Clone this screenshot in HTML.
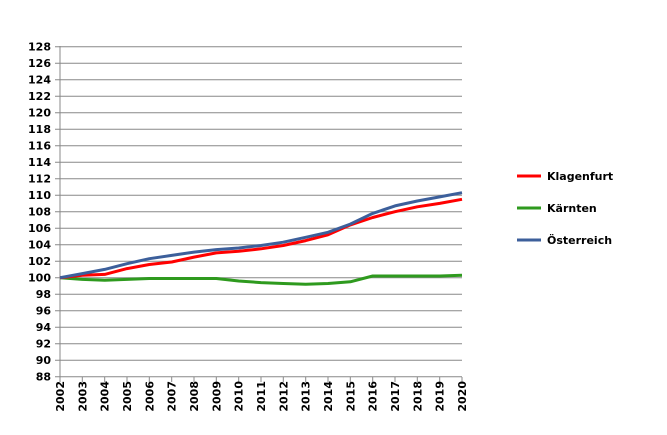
<!DOCTYPE html>
<html><head><meta charset="utf-8"><style>
body{margin:0;background:#fff}
svg text{font-family:"DejaVu Sans","Liberation Sans",sans-serif;font-weight:bold;font-size:11px;fill:#000}
</style></head><body>
<svg id="s" width="667" height="430" xmlns="http://www.w3.org/2000/svg"></svg>
<script>
const s=document.getElementById('s');
const X=i=>60+i*(402/18), Y=v=>376.7-(v-88)*8.25;
let h='';
for(let v=88;v<=128;v+=2){const y=Y(v).toFixed(1);
 h+=`<line x1="55" x2="462" y1="${y}" y2="${y}" stroke="#888" stroke-width="1"/>`;
 h+=`<text x="51" y="${(+y+4).toFixed(1)}" text-anchor="end">${v}</text>`;}
h+=`<line x1="60" x2="60" y1="46" y2="377" stroke="#888"/>`;
for(let i=0;i<19;i++){const x=X(i).toFixed(1);
 h+=`<line x1="${x}" x2="${x}" y1="377" y2="382" stroke="#888"/>`;
 h+=`<text transform="translate(${(+x+4).toFixed(1)},381) rotate(-90)" text-anchor="end">${2002+i}</text>`;}
const series=[
["#3C5F9B",[100,100.5,101,101.7,102.3,102.7,103.1,103.4,103.6,103.9,104.3,104.9,105.5,106.5,107.8,108.7,109.3,109.8,110.3]],
["#FF0000",[100,100.3,100.4,101.1,101.6,101.9,102.5,103.0,103.2,103.5,103.9,104.5,105.2,106.4,107.3,108.0,108.6,109.0,109.5]],
["#2E9A1E",[100,99.8,99.7,99.8,99.9,99.9,99.9,99.9,99.6,99.4,99.3,99.2,99.3,99.5,100.2,100.2,100.2,100.2,100.3]]];
for(const [c,d] of [series[2],series[1],series[0]]){
 h+=`<polyline fill="none" stroke="${c}" stroke-width="3" stroke-linejoin="round" points="${d.map((v,i)=>X(i).toFixed(1)+','+Y(v).toFixed(1)).join(' ')}"/>`;}
const leg=[["#FF0000","Klagenfurt",176],["#2E9A1E","Kärnten",208],["#3C5F9B","Österreich",240]];
for(const [c,t,y] of leg){
 h+=`<line x1="517" x2="541" y1="${y}" y2="${y}" stroke="${c}" stroke-width="3"/>`;
 h+=`<text x="547" y="${y+4}">${t}</text>`;}
s.innerHTML=h;
</script>
</body></html>
